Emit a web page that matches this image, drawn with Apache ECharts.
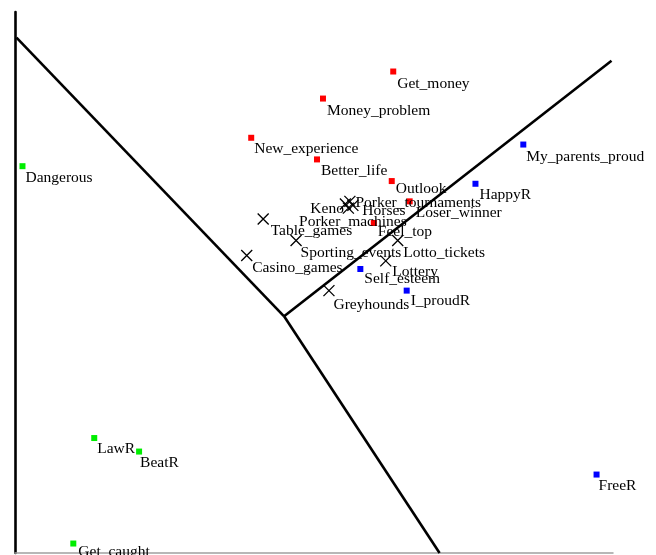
<!DOCTYPE html>
<html>
<head>
<meta charset="utf-8">
<title>Gambling perceptions map</title>
<script src="https://cdn.jsdelivr.net/npm/echarts@6/dist/echarts.min.js"></script>
<style>
  html, body { margin: 0; padding: 0; background: #ffffff; }
  #chart { width: 656px; height: 555px; }
</style>
</head>
<body>
<div id="chart"></div>
<script>
// Red group: motivation items
const redNames = ['Get_money', 'Money_problem', 'New_experience', 'Better_life', 'Outlook', 'Loser_winner', 'Feel_top'];
const redX = [0.53, 0.06, -0.42, 0.02, 0.52, 0.64, 0.40];
const redY = [1.56, 1.36, 1.07, 0.91, 0.75, 0.60, 0.44];

// Blue group: reward items
const blueNames = ['My_parents_proud', 'HappyR', 'Self_esteem', 'I_proudR', 'FreeR'];
const blueX = [1.40, 1.08, 0.31, 0.62, 1.89];
const blueY = [1.02, 0.73, 0.10, -0.06, -1.42];

// Green group: risk items
const greenNames = ['Dangerous', 'LawR', 'BeatR', 'Get_caught'];
const greenX = [-1.95, -1.47, -1.17, -1.61];
const greenY = [0.86, -1.15, -1.25, -1.93];

// Gambling activities
const gameNames = ['Keno', 'Porker_tournaments', 'Horses', 'Porker_machines', 'Table_games', 'Sporting_events', 'Casino_games', 'Lotto_tickets', 'Lottery', 'Greyhounds'];
const gameX = [0.21, 0.24, 0.26, 0.23, -0.34, -0.12, -0.45, 0.56, 0.48, 0.10];
const gameY = [0.58, 0.60, 0.57, 0.55, 0.47, 0.31, 0.20, 0.31, 0.16, -0.06];

// Region boundaries meeting at a common vertex
const boundaryVertex = [-0.20, -0.25];
const boundaryEnds = [[-1.99, 1.81], [1.99, 1.64], [0.84, -2.0]];

// Label placement: [dx, dy, align] relative to the point centre, in pixels
const labelPlacement = {
  'Get_money': [4, 12], 'Money_problem': [4, 12], 'New_experience': [3, 11],
  'Better_life': [4, 11], 'Outlook': [4, 8], 'Loser_winner': [6, 12], 'Feel_top': [4, 9],
  'My_parents_proud': [3, 12], 'HappyR': [4, 11], 'Self_esteem': [4, 10],
  'I_proudR': [4, 10], 'FreeR': [2, 11],
  'Dangerous': [3, 12], 'LawR': [3, 11], 'BeatR': [1, 11], 'Get_caught': [5, 8],
  'Keno': [1, 7, 'right'], 'Porker_tournaments': [8, 4], 'Horses': [12, 8],
  'Porker_machines': [7, 16, 'center'], 'Table_games': [10, 14], 'Sporting_events': [7, 15],
  'Casino_games': [8, 15], 'Lotto_tickets': [8, 15], 'Lottery': [9, 14], 'Greyhounds': [7, 17]
};

const FONT = 'Liberation Serif, Times New Roman, serif';

function buildPoints(names, xs, ys, size) {
  return names.map(function (n, i) {
    const p = labelPlacement[n] || [4, 10];
    return {
      name: n,
      value: [xs[i], ys[i]],
      label: {
        position: [p[0] + size / 2, p[1] + size / 2],
        align: p[2] || 'left'
      }
    };
  });
}

const labelStyle = {
  show: true,
  formatter: '{b}',
  fontFamily: FONT,
  fontSize: 15.5,
  color: '#000000',
  verticalAlign: 'middle'
};

const SQ = 6;
const XS = 11;

const boundarySeries = boundaryEnds.map(function (e) {
  return {
    type: 'line',
    data: [boundaryVertex, e],
    symbol: 'none',
    silent: true,
    clip: false,
    z: 1,
    lineStyle: { color: '#000000', width: 2.6 }
  };
});

const chart = echarts.init(document.getElementById('chart'), null, { renderer: 'canvas' });
chart.setOption({
  backgroundColor: '#ffffff',
  animation: false,
  grid: { left: 15, right: 43, top: 12, bottom: 2, containLabel: false },
  xAxis: {
    type: 'value', min: -2, max: 2,
    axisLine: { show: true, onZero: false, lineStyle: { color: '#a0a0a0', width: 1.5 } },
    axisTick: { show: false }, axisLabel: { show: false }, splitLine: { show: false }
  },
  yAxis: {
    type: 'value', min: -2, max: 2,
    axisLine: { show: true, onZero: false, lineStyle: { color: '#000000', width: 2.6 } },
    axisTick: { show: false }, axisLabel: { show: false }, splitLine: { show: false }
  },
  series: boundarySeries.concat([
    {
      type: 'scatter', name: 'Motivation', symbol: 'rect', symbolSize: SQ, z: 3,
      itemStyle: { color: '#ff0000', opacity: 1 }, label: labelStyle,
      data: buildPoints(redNames, redX, redY, SQ)
    },
    {
      type: 'scatter', name: 'Reward', symbol: 'rect', symbolSize: SQ, z: 3,
      itemStyle: { color: '#0000ff', opacity: 1 }, label: labelStyle,
      data: buildPoints(blueNames, blueX, blueY, SQ)
    },
    {
      type: 'scatter', name: 'Risk', symbol: 'rect', symbolSize: SQ, z: 3,
      itemStyle: { color: '#00ee00', opacity: 1 }, label: labelStyle,
      data: buildPoints(greenNames, greenX, greenY, SQ)
    },
    {
      type: 'scatter', name: 'Activity', symbol: 'path://M0,0L10,10M10,0L0,10', symbolSize: XS, z: 3,
      itemStyle: { color: 'none', borderColor: '#000000', borderWidth: 1.3, opacity: 1 }, label: labelStyle,
      data: buildPoints(gameNames, gameX, gameY, XS)
    }
  ])
});
</script>
</body>
</html>
